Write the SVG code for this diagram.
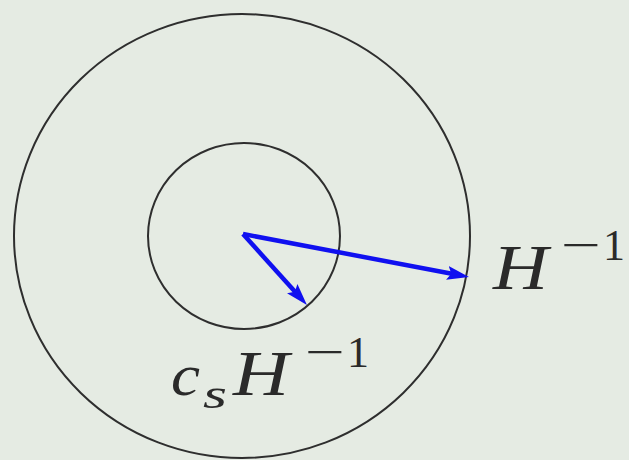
<svg xmlns="http://www.w3.org/2000/svg" width="629" height="460" viewBox="0 0 629 460">
<style>
.ring{fill:none;stroke:#2e2e2e;stroke-width:2}
.arr{stroke:#1010f0;stroke-width:4.5;fill:none;marker-end:url(#ah)}
.it{font-family:'Times New Roman','Liberation Serif','DejaVu Serif',serif;font-style:italic;fill:#2a2a2a}
.rm{font-family:'Times New Roman','Liberation Serif','DejaVu Serif',serif;fill:#2a2a2a}
</style>
<defs>
<marker id="ah" viewBox="0 0 22 14" refX="10" refY="7" markerWidth="22" markerHeight="14" markerUnits="userSpaceOnUse" orient="auto">
<path d="M0,0 L22,7 L0,14 L4,7 z" fill="#1010f0"/>
</marker>
</defs>
<rect width="629" height="460" fill="#e5ebe3"/>
<g id="outer"><ellipse class="ring" cx="242" cy="236" rx="228" ry="222"/></g>
<g id="inner"><ellipse class="ring" cx="244" cy="236" rx="96" ry="93"/></g>
<g id="connectors">
<line class="arr" x1="243" y1="234" x2="457.2" y2="274.8"/>
<line class="arr" x1="243" y1="234" x2="298.9" y2="296.1"/>
</g>
<g id="label-H">
<text class="it" x="493" y="289" font-size="64" textLength="55" lengthAdjust="spacingAndGlyphs">H</text>
<text class="rm" x="561" y="260" font-size="44" textLength="40" lengthAdjust="spacingAndGlyphs">−</text>
<text class="rm" x="603" y="260" font-size="44">1</text>
</g>
<g id="label-csH">
<text class="it" x="171" y="395" font-size="60" textLength="29" lengthAdjust="spacingAndGlyphs">c</text>
<text class="it" x="203" y="408" font-size="42" textLength="24" lengthAdjust="spacingAndGlyphs">s</text>
<text class="it" x="233" y="395" font-size="64" textLength="56" lengthAdjust="spacingAndGlyphs">H</text>
<text class="rm" x="305" y="367" font-size="44" textLength="40" lengthAdjust="spacingAndGlyphs">−</text>
<text class="rm" x="347" y="367" font-size="44">1</text>
</g>
</svg>
